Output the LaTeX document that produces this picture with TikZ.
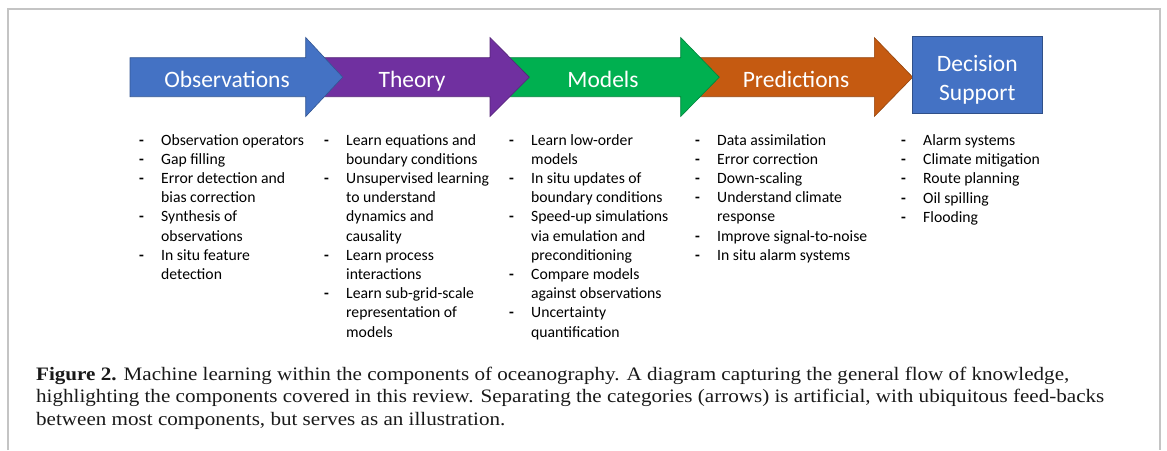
\documentclass[tikz,border=0pt]{standalone}
\usepackage{fontspec}
\setmainfont{Liberation Serif}
\newfontfamily\calibri{Carlito}
\newfontfamily\capfont[FakeStretch=1.11]{Liberation Serif}
\usepackage{enumitem}
\usetikzlibrary{positioning}

\definecolor{obsblue}{HTML}{4472C4}
\definecolor{theorypurple}{HTML}{7030A0}
\definecolor{modelgreen}{HTML}{00B050}
\definecolor{predorange}{HTML}{C55A11}
\definecolor{framegray}{HTML}{C4C4C4}

\setlist[itemize]{label=\textbf{-}, align=left, leftmargin=22pt, labelwidth=7pt, labelsep=15pt,
  itemsep=0pt, parsep=0pt, topsep=0pt, partopsep=0pt}

\begin{document}
\begin{tikzpicture}[
    x=1pt, y=-1pt,
    flowarrow/.style={draw=#1!75!black, line width=0.6pt, fill=#1},
    arrowtext/.style={font=\calibri\fontsize{23.5}{28.4}\selectfont, text=white, inner sep=0pt, align=center},
    itemlist/.style={anchor=base west, inner sep=0pt, font=\calibri\fontsize{15.7}{19.2}\selectfont},
    caption/.style={anchor=north west, inner sep=0pt, align=left, font=\capfont\fontsize{19}{22.3}\selectfont, text=black!90}
]
\useasboundingbox (0,0) rectangle (1167,450);

% Frame
\draw[framegray, line width=1.5pt] (8,450) |- (1160,9) -- (1160,450);

% Arrows (right to left, so each head lies over the next body)
\draw[flowarrow=predorange] (680,57.7) -- (874.3,57.7) -- (874.3,37.5) -- (912.7,77.2) -- (874.3,116.5) -- (874.3,96.7) -- (680,96.7) -- cycle;
\draw[flowarrow=modelgreen] (490,57.7) -- (680.7,57.7) -- (680.7,37.5) -- (719.3,77.2) -- (680.7,116.5) -- (680.7,96.7) -- (490,96.7) -- cycle;
\draw[flowarrow=theorypurple] (306,57.7) -- (490,57.7) -- (490,37.5) -- (529.3,77.2) -- (490,116.5) -- (490,96.7) -- (306,96.7) -- cycle;
\draw[flowarrow=obsblue] (130,57.7) -- (305.7,57.7) -- (305.7,37.5) -- (342.7,77.2) -- (305.7,116.5) -- (305.7,96.7) -- (130,96.7) -- cycle;

\node[arrowtext, anchor=base] (obs) at (227,87) {Observations};
\node[arrowtext, anchor=base] (theory) at (412,87) {Theory};
\node[arrowtext, anchor=base] (models) at (603,87) {Models};
\node[arrowtext, anchor=base] (pred) at (796,87) {Predictions};

% Decision box
\node[draw=obsblue!70!black, fill=obsblue, line width=0.6pt, minimum width=129.3pt, minimum height=77.3pt,
      inner sep=0pt] (decision) at (977.3,74.7) {};
\node[arrowtext, yshift=-5pt] (decisiontext) at (decision.center) {Decision\\Support};

% Lists
\node[itemlist] (obslist) at (139,145) {\begin{minipage}[t]{190pt}
\begin{itemize}
  \item Observation operators
  \item Gap filling
  \item Error detection and\newline bias correction
  \item Synthesis of\newline observations
  \item In situ feature\newline detection
\end{itemize}
\end{minipage}};

\node[itemlist] (theorylist) at (324,145) {\begin{minipage}[t]{190pt}
\begin{itemize}
  \item Learn equations and\newline boundary conditions
  \item Unsupervised learning\newline to understand\newline dynamics and\newline causality
  \item Learn process\newline interactions
  \item Learn sub-grid-scale\newline representation of\newline models
\end{itemize}
\end{minipage}};

\node[itemlist] (modellist) at (509,145) {\begin{minipage}[t]{190pt}
\begin{itemize}
  \item Learn low-order\newline models
  \item In situ updates of\newline boundary conditions
  \item Speed-up simulations\newline via emulation and\newline preconditioning
  \item Compare models\newline against observations
  \item Uncertainty\newline quantification
\end{itemize}
\end{minipage}};

\node[itemlist] (predlist) at (695,145) {\begin{minipage}[t]{190pt}
\begin{itemize}
  \item Data assimilation
  \item Error correction
  \item Down-scaling
  \item Understand climate\newline response
  \item Improve signal-to-noise
  \item In situ alarm systems
\end{itemize}
\end{minipage}};

\node[itemlist] (decisionlist) at (901,145.5) {\begin{minipage}[t]{190pt}
\begin{itemize}
  \item Alarm systems
  \item Climate mitigation
  \item Route planning
  \item Oil spilling
  \item Flooding
\end{itemize}
\end{minipage}};

% Caption
\node[caption] (figcaption) at (36,367) {\textbf{Figure 2.} Machine learning within the components of oceanography. A diagram capturing the general flow of knowledge,\\
highlighting the components covered in this review. Separating the categories (arrows) is artificial, with ubiquitous feed-backs\\
between most components, but serves as an illustration.};

\end{tikzpicture}
\end{document}
